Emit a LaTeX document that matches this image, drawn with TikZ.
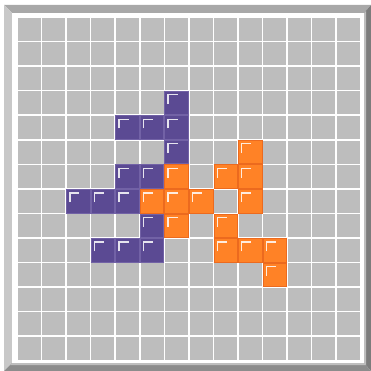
\documentclass[tikz,border=0pt]{standalone}
\definecolor{cellgray}{HTML}{BDBDBD}
\definecolor{purfill}{HTML}{5B4A93}
\definecolor{purline}{HTML}{7262A6}
\definecolor{orgfill}{HTML}{FF8226}
\definecolor{orgline}{HTML}{EC6A1E}
\definecolor{bandtop}{HTML}{A8A8A8}
\definecolor{bandleft}{HTML}{C8C8C8}
\definecolor{bandright}{HTML}{7C7C7C}
\definecolor{bandbottom}{HTML}{8C8C8C}
\definecolor{bandinner}{HTML}{BEBEBE}
\tikzset{
  purcell/.style={fill=purfill, draw=purline, line width=0.8},
  orgcell/.style={fill=orgfill, draw=orgline, line width=0.8},
  hilite/.style={draw=white, line width=1.3, opacity=0.85, line cap=butt, line join=miter},
  graycell/.style={fill=cellgray}
}
\newcommand\tetcell[3]{%
  \filldraw[#1] ({17.5+#2*24.55},{17.5+#3*24.55}) rectangle ++(23.6,23.6);
  \draw[hilite] ({20.8+#2*24.55},{30.3+#3*24.55}) -- ++(0,-9.3) -- ++(9.5,0);}
\begin{document}
\begin{tikzpicture}[x=1pt,y=-1pt]
\useasboundingbox (0,0) rectangle (371,371);
\fill[white] (0,0) rectangle (371,371);
% frame bands
\fill[bandtop] (4,5) -- (371,5) -- (364,13) -- (12,13) -- cycle;
\fill[bandleft] (4,5) -- (12,13) -- (12,363) -- (4,371) -- cycle;
\fill[bandright] (371,5) -- (371,371) -- (364,363) -- (364,13) -- cycle;
\fill[bandbottom] (4,371) -- (12,363) -- (364,363) -- (371,371) -- cycle;
\fill[bandinner] (364,13) -- (366,11) -- (366,365) -- (364,363) -- cycle;
\fill[bandinner] (12,363) -- (364,363) -- (366,365) -- (10,365) -- cycle;
\fill[white] (12,13) rectangle (364,363);
% grid
\foreach \c in {0,...,13}
  \foreach \r in {0,...,13}
    \fill[graycell] ({17.8+\c*24.55},{17.8+\r*24.55}) rectangle ++(23,23);
% purple piece cells
\foreach \c/\r in {6/3,4/4,5/4,6/4,6/5,4/6,5/6,2/7,3/7,4/7,5/8,3/9,4/9,5/9}
  \tetcell{purcell}{\c}{\r};
% orange piece cells
\foreach \c/\r in {9/5,6/6,8/6,9/6,5/7,6/7,7/7,9/7,6/8,8/8,8/9,9/9,10/9,10/10}
  \tetcell{orgcell}{\c}{\r};
\end{tikzpicture}
\end{document}
